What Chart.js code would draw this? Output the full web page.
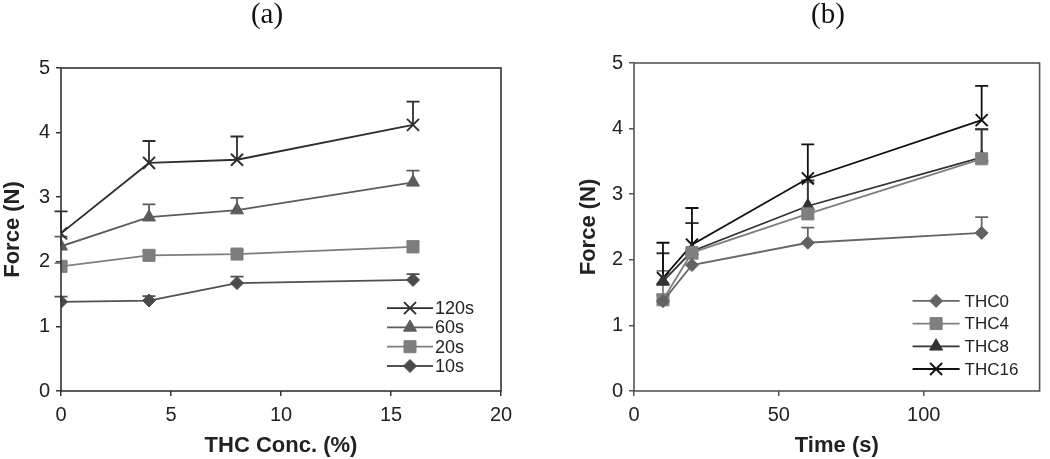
<!DOCTYPE html>
<html lang="en">
<head>
  <meta charset="UTF-8" />
  <title>Force vs THC concentration and time</title>
  <script src="https://cdn.jsdelivr.net/npm/chart.js"></script>
  <style>
    body {
      margin: 0;
      background: #fff;
      font-family: 'Liberation Sans', Arial, sans-serif;
      overflow: hidden;
    }
    .panel {
      position: absolute;
      top: 0;
      width: 525px;
      height: 459px;
    }
    .panel-label {
      position: absolute;
      top: -3px;
      transform: translateX(-50%);
      font-family: 'Liberation Serif', 'Times New Roman', serif;
      font-size: 29px;
      color: #111;
    }
    canvas { display: block; }
  </style>
</head>
<body>
  <div class="panel" style="left:0">
    <div class="panel-label" style="left:267px">(a)</div>
    <canvas id="chartA" width="525" height="459"></canvas>
  </div>
  <div class="panel" style="left:525px">
    <div class="panel-label" style="left:303px">(b)</div>
    <canvas id="chartB" width="525" height="459"></canvas>
  </div>

<script>
  // ---- panel (a): force vs THC concentration, one line per hold time ----
  const concA = [0, 4, 8, 16];
  const xTicksA = [0, 5, 10, 15, 20];
  const yTicks = [0, 1, 2, 3, 4, 5];

  const labelsA = ['120s', '60s', '20s', '10s'];
  const f120 = [2.44, 3.53, 3.58, 4.12];
  const e120 = [0.34, 0.34, 0.36, 0.36];
  const f60 = [2.24, 2.69, 2.80, 3.23];
  const e60 = [0.15, 0.20, 0.19, 0.18];
  const f20 = [1.93, 2.10, 2.12, 2.23];
  const e20 = [0.05, 0.07, 0.05, 0.09];
  const f10 = [1.38, 1.40, 1.67, 1.72];
  const e10 = [0.08, 0.07, 0.10, 0.09];

  // ---- panel (b): force vs time, one line per THC concentration ----
  const timeB = [10, 20, 60, 120];
  const xTicksB = [0, 50, 100];

  const labelsB = ['THC0', 'THC4', 'THC8', 'THC16'];
  const thc0 = [1.37, 1.92, 2.26, 2.41];
  const thc0Err = [0.10, 0.10, 0.23, 0.24];
  const thc4 = [1.39, 2.11, 2.70, 3.54];
  const thc4Err = [0.44, 0.45, 0.48, 0.45];
  const thc8 = [1.67, 2.13, 2.82, 3.56];
  const thc8Err = [0.43, 0.43, 0.39, 0.43];
  const thc16 = [1.72, 2.23, 3.24, 4.13];
  const thc16Err = [0.54, 0.56, 0.52, 0.52];

  const pts = (xs, ys) => xs.map((x, i) => ({ x: x, y: ys[i] }));

  function series(label, xs, ys, errs, style, color, fill, radius) {
    return {
      label: label,
      data: pts(xs, ys),
      errors: errs,
      showLine: true,
      borderColor: color,
      borderWidth: 1.8,
      pointStyle: style,
      pointRadius: radius,
      pointHoverRadius: radius,
      pointBackgroundColor: fill,
      pointBorderColor: style === 'crossRot' ? color : fill,
      pointBorderWidth: style === 'crossRot' ? 1.9 : 1
    };
  }

  // one-sided (upward) error bars, drawn under the markers
  const errorBars = {
    id: 'errorBars',
    beforeDatasetsDraw(chart) {
      const { ctx, scales } = chart;
      chart.data.datasets.forEach(ds => {
        ctx.save();
        ctx.strokeStyle = ds.borderColor;
        ctx.lineWidth = 1.8;
        ds.data.forEach((p, i) => {
          const x = scales.x.getPixelForValue(p.x);
          const y0 = scales.y.getPixelForValue(p.y);
          const y1 = scales.y.getPixelForValue(p.y + ds.errors[i]);
          ctx.beginPath();
          ctx.moveTo(x, y0);
          ctx.lineTo(x, y1);
          ctx.moveTo(x - 6.5, y1);
          ctx.lineTo(x + 6.5, y1);
          ctx.stroke();
        });
        ctx.restore();
      });
    }
  };

  // box around the plotting area
  const frame = {
    id: 'frame',
    afterDatasetsDraw(chart, args, o) {
      const { ctx, chartArea: a } = chart;
      ctx.save();
      ctx.strokeStyle = o.color;
      ctx.lineWidth = o.width;
      ctx.strokeRect(a.left, a.top, a.right - a.left, a.bottom - a.top);
      ctx.restore();
    }
  };

  // legend with a short line through the marker, inside the plot
  const lineLegend = {
    id: 'lineLegend',
    afterDraw(chart, args, o) {
      const { ctx, chartArea: a } = chart;
      const list = chart.data.datasets;
      list.forEach((ds, i) => {
        const y = a.bottom - o.bottom - (list.length - 1 - i) * o.gap;
        const x0 = a.right - o.right;
        ctx.save();
        ctx.strokeStyle = ds.borderColor;
        ctx.lineWidth = ds.borderWidth;
        ctx.beginPath();
        ctx.moveTo(x0, y);
        ctx.lineTo(x0 + o.len, y);
        ctx.stroke();
        ctx.fillStyle = ds.pointBackgroundColor;
        ctx.strokeStyle = ds.pointBorderColor;
        ctx.lineWidth = ds.pointBorderWidth;
        Chart.helpers.drawPoint(ctx, {
          pointStyle: ds.pointStyle,
          radius: ds.pointRadius,
          borderWidth: ds.pointBorderWidth,
          rotation: 0
        }, x0 + o.len / 2, y);
        ctx.fillStyle = '#222';
        ctx.font = o.font;
        ctx.textBaseline = 'middle';
        ctx.fillText(ds.label, x0 + o.len + o.textGap, y + 1);
        ctx.restore();
      });
    }
  };

  function makeChart(id, datasets, cfg) {
    const tickFont = { family: "'Liberation Sans', Arial, sans-serif", size: 20 };
    const titleFont = { family: "'Liberation Sans', Arial, sans-serif", size: 22, weight: 'bold' };
    return new Chart(document.getElementById(id), {
      type: 'scatter',
      data: { datasets: datasets },
      plugins: [errorBars, frame, lineLegend],
      options: {
        responsive: false,
        animation: false,
        events: [],
        layout: { padding: cfg.padding },
        plugins: {
          legend: { display: false },
          tooltip: { enabled: false },
          frame: { color: cfg.frameColor, width: 1.6 },
          lineLegend: cfg.legend
        },
        scales: {
          x: {
            type: 'linear',
            min: cfg.xMin,
            max: cfg.xMax,
            afterBuildTicks: s => { s.ticks = cfg.xTicks.map(v => ({ value: v })); },
            afterFit: s => { s.height = 68; },
            border: { display: false },
            grid: { drawOnChartArea: false, drawTicks: true, tickLength: 5, color: cfg.frameColor, lineWidth: 1.5 },
            ticks: { font: tickFont, color: '#222', padding: 7, maxRotation: 0 },
            title: { display: true, text: cfg.xTitle, font: titleFont, color: '#222', padding: { top: 0, bottom: 0 } }
          },
          y: {
            min: 0,
            max: 5,
            afterBuildTicks: s => { s.ticks = yTicks.map(v => ({ value: v })); },
            afterFit: s => { s.width = cfg.yWidth; },
            border: { display: false },
            grid: { drawOnChartArea: false, drawTicks: true, tickLength: 5, color: cfg.frameColor, lineWidth: 1.5 },
            ticks: { font: tickFont, color: '#222', padding: 6 },
            title: { display: true, text: 'Force (N)', font: titleFont, color: '#222', padding: { top: 0, bottom: 0 } }
          }
        }
      }
    });
  }

  makeChart('chartA', [
    series(labelsA[0], concA, f120, e120, 'crossRot', '#2e2e2e', '#2e2e2e', 8.5),
    series(labelsA[1], concA, f60, e60, 'triangle', '#5c5c5c', '#5c5c5c', 7.5),
    series(labelsA[2], concA, f20, e20, 'rect', '#7d7d7d', '#7d7d7d', 8.5),
    series(labelsA[3], concA, f10, e10, 'rectRot', '#505050', '#4a4a4a', 6.5)
  ], {
    padding: { left: 0, top: 68, right: 24, bottom: 0 },
    yWidth: 61,
    xMin: 0, xMax: 20, xTicks: xTicksA,
    xTitle: 'THC Conc. (%)',
    frameColor: '#333',
    legend: { right: 114, bottom: 25, gap: 19.3, len: 46, textGap: 2, font: "18px 'Liberation Sans', Arial, sans-serif" }
  });

  makeChart('chartB', [
    series(labelsB[0], timeB, thc0, thc0Err, 'rectRot', '#666', '#626262', 6.5),
    series(labelsB[1], timeB, thc4, thc4Err, 'rect', '#7f7f7f', '#7f7f7f', 8.5),
    series(labelsB[2], timeB, thc8, thc8Err, 'triangle', '#333', '#333', 7.5),
    series(labelsB[3], timeB, thc16, thc16Err, 'crossRot', '#111', '#111', 8.5)
  ], {
    padding: { left: 51, top: 63, right: 5, bottom: 0 },
    yWidth: 58,
    xMin: 0, xMax: 140, xTicks: xTicksB,
    xTitle: 'Time (s)',
    frameColor: '#555',
    legend: { right: 127, bottom: 22, gap: 22.7, len: 47, textGap: 5, font: "17px 'Liberation Sans', Arial, sans-serif" }
  });
</script>
</body>
</html>
